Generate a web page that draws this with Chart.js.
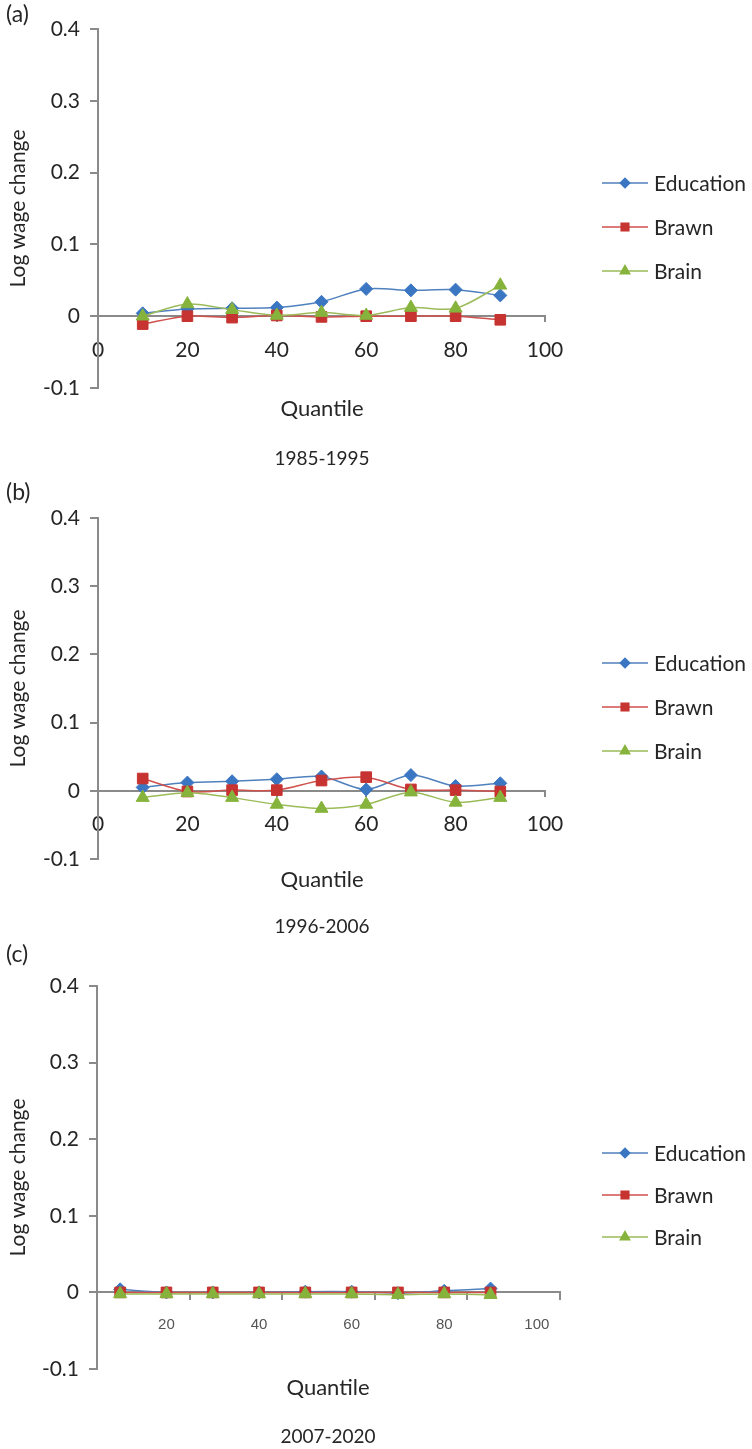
<!DOCTYPE html>
<html><head><meta charset="utf-8">
<script src="https://cdn.jsdelivr.net/npm/chart.js@4.4.0/dist/chart.umd.min.js"></script>
<style>
html,body{margin:0;padding:0;background:#fff;}
body{width:752px;height:1449px;position:relative;overflow:hidden;}
canvas{position:absolute;left:0;}
</style></head><body>
<canvas id="ca" width="752" height="480" style="top:0px"></canvas>
<canvas id="cb" width="752" height="460" style="top:480px"></canvas>
<canvas id="cc" width="752" height="509" style="top:940px"></canvas>
<script>
// ---- data ----
const quantiles = [10, 20, 30, 40, 50, 60, 70, 80, 90];
const categoriesC = ['10', '20', '30', '40', '50', '60', '70', '80', '90', '100'];
const seriesNames = ['Education', 'Brawn', 'Brain'];
const panelLabels = ['(a)', '(b)', '(c)'];
const periods = ['1985-1995', '1996-2006', '2007-2020'];
const yAxisTitle = 'Log wage change';
const xAxisTitle = 'Quantile';

const educationA = [0.004, 0.010, 0.011, 0.012, 0.020, 0.038, 0.036, 0.037, 0.029];
const brawnA     = [-0.011, 0.000, -0.002, 0.001, -0.001, 0.000, 0.000, 0.000, -0.005];
const brainA     = [0.000, 0.017, 0.009, 0.001, 0.005, 0.001, 0.012, 0.011, 0.043];

const educationB = [0.005, 0.012, 0.014, 0.017, 0.021, 0.002, 0.023, 0.007, 0.011];
const brawnB     = [0.018, -0.001, 0.001, 0.001, 0.015, 0.020, 0.002, 0.001, -0.001];
const brainB     = [-0.010, -0.003, -0.010, -0.020, -0.026, -0.020, -0.002, -0.017, -0.010];

const educationC = [0.004, 0.000, 0.000, 0.000, 0.001, 0.001, -0.001, 0.002, 0.005];
const brawnC     = [0.000, 0.000, 0.000, 0.000, 0.000, 0.000, 0.000, 0.000, 0.000];
const brainC     = [-0.002, -0.002, -0.002, -0.002, -0.002, -0.002, -0.003, -0.002, -0.003];

// ---- styles ----
const FONT = 'Lato, "Open Sans", sans-serif';
const TEXT = '#262626';
const AXIS = '#8a8a8a';
const styles = [
  {line: '#4f81bd', point: '#3b76c2', pointStyle: 'rectRot', radius: 6.5},
  {line: '#d0504c', point: '#c63330', pointStyle: 'rect', radius: 7.5},
  {line: '#9bbb59', point: '#86b33c', pointStyle: 'triangle', radius: 7.5}
];

Chart.defaults.font.family = FONT;
Chart.defaults.color = TEXT;

const sideLegend = {
  id: 'sideLegend',
  afterDraw(chart, args, o) {
    const ctx = chart.ctx;
    ctx.save();
    chart.data.datasets.forEach((ds, i) => {
      const y = o.top + i * o.gap;
      ctx.strokeStyle = ds.borderColor;
      ctx.lineWidth = 1.5;
      ctx.beginPath(); ctx.moveTo(o.x, y); ctx.lineTo(o.x + o.len, y); ctx.stroke();
      ctx.fillStyle = ds.pointBackgroundColor;
      ctx.strokeStyle = ds.pointBorderColor;
      Chart.helpers.drawPoint(ctx, {pointStyle: ds.pointStyle, radius: ds.pointRadius * 0.72, borderWidth: 1, rotation: 0}, o.x + o.len / 2, y);
      ctx.fillStyle = TEXT;
      ctx.font = '21px ' + FONT;
      ctx.textAlign = 'left'; ctx.textBaseline = 'middle';
      ctx.fillText(ds.label, o.x + o.len + 6, y + 1);
    });
    ctx.restore();
  }
};

const texts = {
  id: 'texts',
  afterDraw(chart, args, o) {
    const ctx = chart.ctx;
    ctx.save();
    ctx.fillStyle = TEXT; ctx.textBaseline = 'middle';
    ctx.font = '23px ' + FONT; ctx.textAlign = 'left';
    ctx.fillText(o.panel, 6, o.panelY);
    ctx.textAlign = 'center';
    ctx.font = '22px ' + FONT;
    ctx.fillText(xAxisTitle, o.cx, o.qY);
    ctx.font = '19px ' + FONT;
    ctx.fillText(o.period, o.cx, o.pY);
    ctx.restore();
  }
};

function makeDatasets(vals, categorical) {
  return vals.map((v, i) => ({
    label: seriesNames[i],
    data: categorical ? v : v.map((y, k) => ({x: quantiles[k], y})),
    order: vals.length - 1 - i,
    borderColor: styles[i].line,
    backgroundColor: styles[i].point,
    pointBackgroundColor: styles[i].point,
    pointBorderColor: styles[i].point,
    pointStyle: styles[i].pointStyle,
    pointRadius: styles[i].radius,
    pointBorderWidth: 1,
    borderWidth: 1.5,
    tension: 0.3,
    fill: false
  }));
}

function yScale() {
  return {
    type: 'linear', min: -0.1, max: 0.4,
    ticks: {stepSize: 0.1, padding: 10, color: TEXT, font: {size: 21},
      callback: v => String(Number(v.toFixed(1)))},
    grid: {drawOnChartArea: false, drawTicks: true, tickLength: 8, color: AXIS, lineWidth: 2},
    border: {color: AXIS, width: 2},
    title: {display: true, text: yAxisTitle, color: TEXT, font: {size: 21}, padding: {top: 6, bottom: 0}},
    afterFit: s => { s.width = s.chart.options.plugins.texts.axisX; }
  };
}

function makeChart(id, vals, pad, cfgTexts, legend, categorical) {
  const x = categorical ? {
    type: 'category', labels: categoriesC, offset: true, position: {y: 0},
    ticks: {autoSkip: false, maxRotation: 0, padding: 16, color: '#555', font: {family: '"Liberation Sans", Arial, sans-serif', size: 15},
      callback: function(v) { const l = this.getLabelForValue(v); return Number(l) % 20 === 0 ? l : ''; }},
    grid: {drawOnChartArea: false, offset: true, tickLength: 7, lineWidth: 2,
      color: c => (c.index === undefined || (c.index > 0 && c.index % 2 === 0)) ? AXIS : 'rgba(0,0,0,0)'},
    border: {color: AXIS, width: 2}
  } : {
    type: 'linear', min: 0, max: 100, position: {y: 0},
    ticks: {stepSize: 20, padding: 16, color: TEXT, font: {size: 21}},
    grid: {drawOnChartArea: false, tickLength: 5, color: AXIS, lineWidth: 2},
    border: {color: AXIS, width: 2}
  };
  return new Chart(document.getElementById(id), {
    type: 'line',
    data: {labels: categorical ? categoriesC : undefined, datasets: makeDatasets(vals, categorical)},
    options: {
      responsive: false, animation: false, devicePixelRatio: 1,
      layout: {padding: pad},
      scales: {x, y: yScale()},
      plugins: {legend: {display: false}, tooltip: {enabled: false}, sideLegend: legend, texts: cfgTexts}
    },
    plugins: [sideLegend, texts]
  });
}

makeChart('ca', [educationA, brawnA, brainA],
  {top: 29, bottom: 92, left: 0, right: 207},
  {panel: panelLabels[0], period: periods[0], panelY: 15, cx: 322, qY: 409, pY: 459, axisX: 98},
  {x: 602, len: 46, top: 183, gap: 44}, false);
makeChart('cb', [educationB, brawnB, brainB],
  {top: 38, bottom: 81, left: 0, right: 207},
  {panel: panelLabels[1], period: periods[1], panelY: 13, cx: 322, qY: 400, pY: 447, axisX: 98},
  {x: 602, len: 46, top: 183, gap: 44}, false);
makeChart('cc', [educationC, brawnC, brainC],
  {top: 46, bottom: 80, left: 0, right: 192},
  {panel: panelLabels[2], period: periods[2], panelY: 15, cx: 328, qY: 448, pY: 497, axisX: 97},
  {x: 602, len: 46, top: 213, gap: 42}, true);
</script>
</body></html>
